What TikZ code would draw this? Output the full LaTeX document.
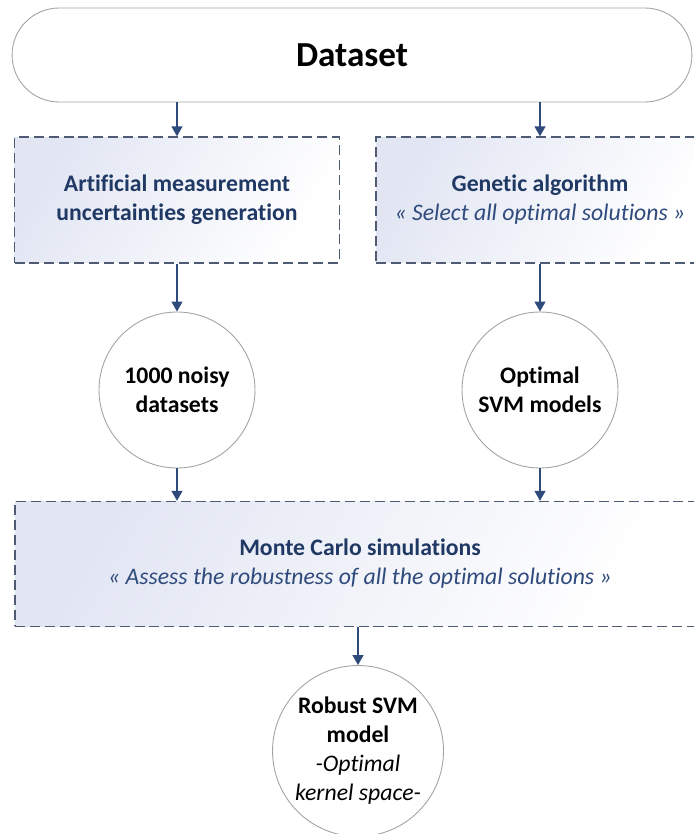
\documentclass[tikz,border=0pt]{standalone}
\usepackage{fontspec}
\setmainfont{Carlito}[Ligatures=NoCommon]
\usetikzlibrary{shapes,arrows.meta,positioning,calc}

\definecolor{navy}{HTML}{1F3864}
\definecolor{subblue}{HTML}{2F4A7C}
\definecolor{arrowblue}{HTML}{2F4B7C}
\definecolor{dashgray}{HTML}{4F5B73}
\definecolor{lav}{HTML}{E2E6F3}
\definecolor{ringgray}{HTML}{A3A3A3}

\tikzset{
  box/.style={draw=dashgray, dash pattern=on 5.7pt off 2.8pt, line width=0.75pt,
    top color=lav, bottom color=white, shading angle=60,
    minimum height=2.52cm, align=center, text=navy, inner sep=0pt,
    font=\fontsize{13.5}{16.5}\selectfont\bfseries},
  ring/.style={circle, draw=ringgray, line width=0.5pt, fill=white, align=center,
    inner sep=0pt, font=\fontsize{13.5}{16.5}\selectfont\bfseries},
  flow/.style={draw=arrowblue, line width=0.9pt, -{Triangle[length=5.7pt,width=6.2pt]}}
}

\begin{document}
\begin{tikzpicture}[x=0.02cm,y=-0.02cm]
\useasboundingbox (0,0) rectangle (694,834);
\clip (0,0) rectangle (694,834);

\node[draw=ringgray, line width=0.5pt, rounded corners=0.94cm, minimum width=13.6cm, minimum height=1.88cm,
  font=\fontsize{20}{24}\selectfont\bfseries] (data) at (352,55) {Dataset};

\node[box, minimum width=6.5cm] (art) at (177,200) {Artificial measurement\\uncertainties generation};
\node[box, minimum width=6.56cm] (gen) at (540,200) {Genetic algorithm\\\mdseries\itshape\color{subblue}« Select all optimal solutions »};

\node[ring, minimum size=3.12cm] (noisy) at (177,390) {1000 noisy\\datasets};
\node[ring, minimum size=3.12cm] (svm) at (540,390) {Optimal\\SVM models};

\node[box, minimum width=13.8cm, minimum height=2.5cm] (mc) at (360,564) {Monte Carlo simulations\\\mdseries\itshape\color{subblue}« Assess the robustness of all the optimal solutions »};

\node[ring, minimum size=3.42cm] (robust) at (358,751) {Robust SVM\\model\\\mdseries\itshape -Optimal\\\mdseries\itshape kernel space-};

\draw[flow] (data.south -| art) -- (art);
\draw[flow] (data.south -| gen) -- (gen);
\draw[flow] (art) -- (noisy);
\draw[flow] (gen) -- (svm);
\draw[flow] (noisy) -- (noisy |- mc.north);
\draw[flow] (svm) -- (svm |- mc.north);
\draw[flow] (mc.south -| robust) -- (robust);
\end{tikzpicture}
\end{document}
